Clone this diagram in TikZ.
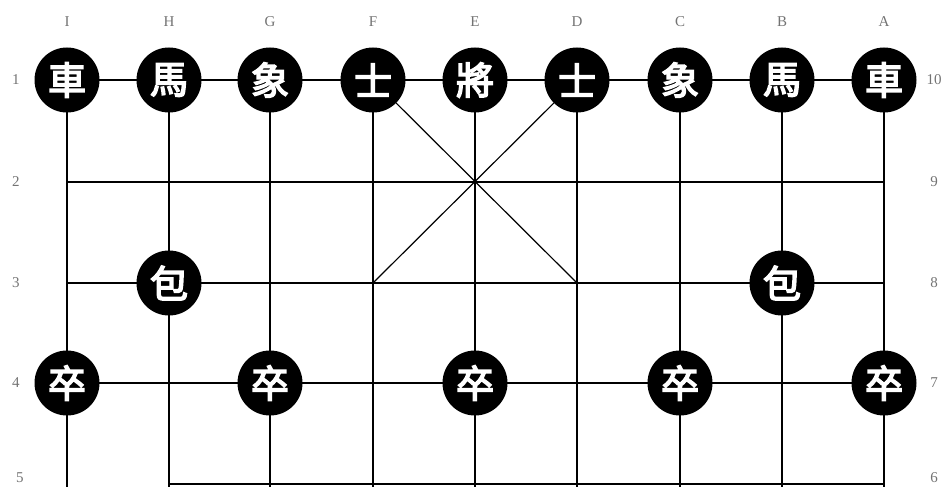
\documentclass[tikz,border=0pt]{standalone}
\usepackage{fontspec}
\setmainfont{Liberation Serif}
\newfontfamily\cjk[AutoFakeBold=4]{Noto Sans CJK TC}
\begin{document}
\begin{tikzpicture}[x=1pt,y=-1pt,
  grid/.style={line width=1.6pt,black},
  diag/.style={line width=1.2pt,black},
  piece/.style={circle,fill=black,minimum size=65pt,inner sep=0pt,text=white,
    font=\cjk\bfseries\fontsize{38}{38}\selectfont},
  lab/.style={text=black!55,inner sep=0pt,font=\fontsize{15}{15}\selectfont}]
\useasboundingbox (0,0) rectangle (951,487);
\foreach \c [count=\i] in {67,169,270,373,475,577,680,782,884}
  \foreach \r [count=\j] in {80,182,283,383,484}
    \coordinate (p\i-\j) at (\c,\r);
% grid
\foreach \j in {1,...,4} \draw[grid] (p1-\j) -- (p9-\j);
\draw[grid] (p2-5) -- (p9-5);
\foreach \i in {1,...,9} \draw[grid] (p\i-1) -- ([yshift=-3pt]p\i-5);
\draw[diag] (p4-1) -- (p6-3);
\draw[diag] (p6-1) -- (p4-3);
% pieces
\node[piece] (chI) at (p1-1) {車};
\node[piece] (maH) at (p2-1) {馬};
\node[piece] (xiG) at (p3-1) {象};
\node[piece] (shF) at (p4-1) {士};
\node[piece] (jiE) at (p5-1) {將};
\node[piece] (shD) at (p6-1) {士};
\node[piece] (xiC) at (p7-1) {象};
\node[piece] (maB) at (p8-1) {馬};
\node[piece] (chA) at (p9-1) {車};
\node[piece] (paH) at (p2-3) {包};
\node[piece] (paB) at (p8-3) {包};
\node[piece] (zuI) at (p1-4) {卒};
\node[piece] (zuG) at (p3-4) {卒};
\node[piece] (zuE) at (p5-4) {卒};
\node[piece] (zuC) at (p7-4) {卒};
\node[piece] (zuA) at (p9-4) {卒};
% column labels
\foreach \l [count=\i] in {I,H,G,F,E,D,C,B,A}
  \node[lab] (col\i) at ([yshift=58pt]p\i-1) {\l};
% row labels
\foreach \n [count=\j] in {1,2,3,4}
  \node[lab] (rl\j) at ([xshift=-51pt]p1-\j) {\n};
\node[lab] (rl5) at ([xshift=-47pt,yshift=6pt]p1-5) {5};
\foreach \n [count=\j] in {10,9,8,7}
  \node[lab] (rr\j) at ([xshift=50pt]p9-\j) {\n};
\node[lab] (rr5) at ([xshift=50pt,yshift=6pt]p9-5) {6};
\end{tikzpicture}
\end{document}
